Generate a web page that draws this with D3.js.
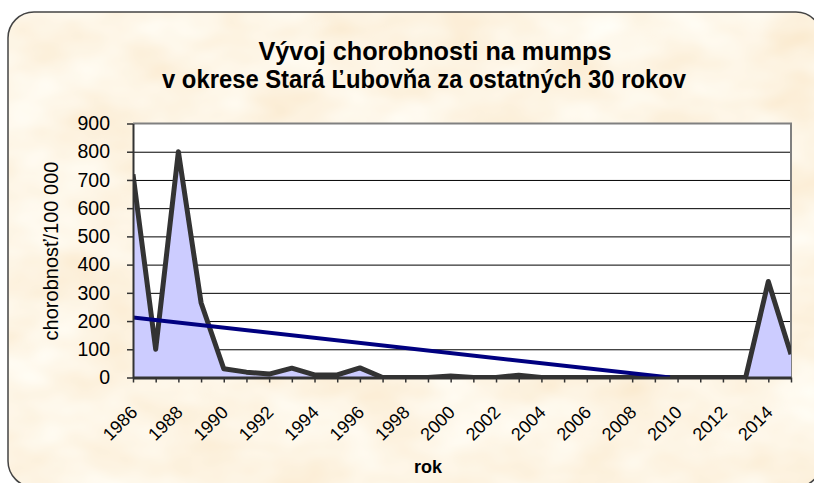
<!DOCTYPE html>
<html>
<head>
<meta charset="utf-8">
<script src="https://cdn.jsdelivr.net/npm/d3@7"></script>
<style>
  body { margin: 0; background: #fff; }
  svg { display: block; font-family: 'Liberation Sans', Arial, sans-serif; }
</style>
</head>
<body>
<svg id="chart" width="814" height="483"></svg>
<script>
/* ----- data ----- */
let years = [1986, 1987, 1988, 1989, 1990, 1991, 1992, 1993, 1994, 1995,
    1996, 1997, 1998, 1999, 2000, 2001, 2002, 2003, 2004, 2005,
    2006, 2007, 2008, 2009, 2010, 2011, 2012, 2013, 2014, 2015]
let rates = [720, 100, 800, 265, 31, 19, 12, 33, 9, 9,
    34, 0, 0, 0, 5, 0, 0, 8, 0, 0,
    0, 0, 0, 0, 0, 0, 0, 0, 340, 82]
let yTicks = [0, 100, 200, 300, 400, 500, 600, 700, 800, 900]
let xLabels = [1986, 1988, 1990, 1992, 1994, 1996, 1998, 2000, 2002, 2004, 2006, 2008, 2010, 2012, 2014]
let titleLines = ['Vývoj chorobnosti na mumps', 'v okrese Stará Ľubovňa za ostatných 30 rokov']

let svg = d3.select('#chart')
let plot = { left: 133, right: 791, top: 123.5, bottom: 377.5 }

/* ----- background ----- */
let defs = svg.append('defs')
let paper = defs.append('filter').attr('id', 'paper')
    .attr('x', 0).attr('y', 0).attr('width', '100%').attr('height', '100%')
paper.append('feTurbulence').attr('type', 'fractalNoise')
    .attr('baseFrequency', '0.012 0.02').attr('numOctaves', 3).attr('seed', 7)
paper.append('feColorMatrix').attr('type', 'matrix')
    .attr('values', '0.06 0 0 0 0.955  0.22 0 0 0 0.8  0.4 0 0 0 0.58  0 0 0 0 1')

defs.append('clipPath').attr('id', 'frameClip')
    .append('rect').attr('x', 8).attr('y', 12).attr('width', 814).attr('height', 475).attr('rx', 26)
defs.append('clipPath').attr('id', 'plotClip')
    .append('rect').attr('x', plot.left).attr('y', plot.top)
    .attr('width', plot.right - plot.left).attr('height', plot.bottom - plot.top)

svg.append('g').attr('clip-path', 'url(#frameClip)')
    .append('rect').attr('x', 8).attr('y', 12).attr('width', 814).attr('height', 475)
    .attr('filter', 'url(#paper)')
svg.append('rect').attr('x', 8).attr('y', 12).attr('width', 814).attr('height', 475).attr('rx', 26)
    .attr('fill', 'none').attr('stroke', '#444').attr('stroke-width', 1.5)

/* ----- title ----- */
let titlePos = [{ x: 435, len: 353 }, { x: 424, len: 524 }]
svg.append('text').attr('text-anchor', 'middle')
    .attr('font-size', 25).attr('font-weight', 'bold').attr('fill', '#000')
    .selectAll('tspan').data(titleLines).enter().append('tspan')
    .attr('x', (d, i) => titlePos[i].x).attr('y', (d, i) => 60 + i * 28)
    .attr('textLength', (d, i) => titlePos[i].len).attr('lengthAdjust', 'spacingAndGlyphs')
    .text(d => d)

/* ----- scales ----- */
let x = d3.scaleLinear().domain([years[0], years[years.length - 1]]).range([plot.left, plot.right])
let y = d3.scaleLinear().domain([0, 900]).range([plot.bottom, plot.top])

svg.append('rect').attr('x', plot.left).attr('y', plot.top)
    .attr('width', plot.right - plot.left).attr('height', plot.bottom - plot.top)
    .attr('fill', '#fff')

svg.append('g').attr('class', 'grid')
    .attr('transform', 'translate(' + plot.left + ',0)')
    .call(d3.axisLeft(y).tickValues(yTicks.slice(1, -1)).tickSize(-(plot.right - plot.left)).tickFormat(''))
    .call(g => g.select('.domain').remove())
    .selectAll('line').attr('stroke', '#000').attr('stroke-width', 1)

svg.append('path')
    .attr('d', 'M' + plot.left + ',' + plot.top + 'H' + plot.right + 'V' + plot.bottom)
    .attr('fill', 'none').attr('stroke', '#808080').attr('stroke-width', 2)

/* ----- series ----- */
let points = years.map((yr, i) => ({ year: yr, value: rates[i] }))
let series = svg.append('g').attr('clip-path', 'url(#plotClip)')

series.append('path').datum(points)
    .attr('d', d3.area().x(d => x(d.year)).y0(y(0)).y1(d => y(d.value)))
    .attr('fill', '#ccccff')
series.append('path').datum(points)
    .attr('d', d3.line().x(d => x(d.year)).y(d => y(d.value)))
    .attr('fill', 'none').attr('stroke', '#333').attr('stroke-width', 5)
    .attr('stroke-linejoin', 'round')

// linear trend (least squares), cut where it reaches zero
let meanX = d3.mean(years), meanY = d3.mean(rates)
let slope = d3.sum(years, (yr, i) => (yr - meanX) * (rates[i] - meanY)) /
    d3.sum(years, yr => (yr - meanX) * (yr - meanX))
let trend = yr => meanY + slope * (yr - meanX)
let trendEnd = Math.min(years[years.length - 1], meanX - meanY / slope)
series.append('path').datum([years[0], trendEnd])
    .attr('d', d3.line().x(d => x(d)).y(d => y(trend(d))))
    .attr('stroke', '#000080').attr('stroke-width', 4)

/* ----- axes ----- */
let yAxis = svg.append('g').attr('transform', 'translate(' + plot.left + ',0)')
    .call(d3.axisLeft(y).tickValues(yTicks).tickSize(6).tickPadding(17).tickSizeOuter(0))
yAxis.select('.domain').attr('stroke', '#333').attr('stroke-width', 2)
yAxis.selectAll('line').attr('stroke', '#333').attr('stroke-width', 1.5)
yAxis.selectAll('text').attr('font-size', 19.5).attr('fill', '#000')
    .attr('font-family', "'Liberation Sans', Arial, sans-serif")

let xAxis = svg.append('g').attr('transform', 'translate(0,' + plot.bottom + ')')
    .call(d3.axisBottom(x).tickValues(years).tickSize(5).tickSizeOuter(0)
        .tickFormat(yr => xLabels.includes(yr) ? String(yr) : ''))
xAxis.select('.domain').attr('stroke', '#333').attr('stroke-width', 3)
xAxis.selectAll('line').attr('stroke', '#333').attr('stroke-width', 1.5)
xAxis.selectAll('text').attr('font-size', 18).attr('fill', '#000')
    .attr('font-family', "'Liberation Sans', Arial, sans-serif")
    .attr('text-anchor', 'end').attr('dy', null).attr('y', 0)
    .attr('transform', 'translate(5,36) rotate(-45)')

/* ----- axis titles ----- */
svg.append('text').attr('transform', 'translate(58,251) rotate(-90)')
    .attr('text-anchor', 'middle').attr('font-size', 20).attr('fill', '#000')
    .text('chorobnosť/100 000')
svg.append('text').attr('x', 428).attr('y', 473)
    .attr('text-anchor', 'middle').attr('font-size', 18).attr('font-weight', 'bold')
    .text('rok')
</script>
</body>
</html>
